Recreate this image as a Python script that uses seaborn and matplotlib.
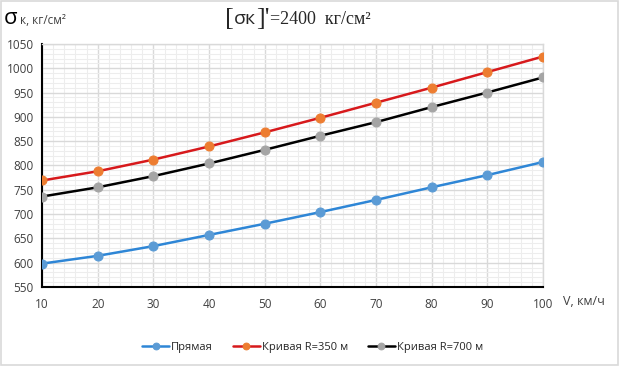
import numpy as np
import pandas as pd
import matplotlib
matplotlib.use("Agg")
import matplotlib.pyplot as plt
import seaborn as sns
from matplotlib.ticker import MultipleLocator

# ---- data ----
speeds = [10, 20, 30, 40, 50, 60, 70, 80, 90, 100]
straight = [598, 614, 634, 657, 680, 704, 729, 755, 780, 807]
curve_350 = [769, 788, 812, 839, 868, 898, 929, 960, 992, 1024]
curve_700 = [736, 755, 778, 804, 832, 861, 889, 920, 950, 981]
series_names = ["Прямая", "Кривая R=350 м", "Кривая R=700 м"]
line_colors = ["#2E86D6", "#D7191C", "#000000"]
marker_colors = ["#5B9BD5", "#ED7D31", "#A5A5A5"]

df = pd.DataFrame({
    "V": speeds * 3,
    "sigma": straight + curve_350 + curve_700,
    "series": [n for n in series_names for _ in speeds],
})

sns.set_theme(style="white")
plt.rcParams["font.family"] = ["Open Sans", "DejaVu Sans"]

fig = plt.figure(figsize=(6.19, 3.66), dpi=100)
ax = fig.add_axes([0.068, 0.216, 0.809, 0.664])

for name, lc, mc in zip(series_names, line_colors, marker_colors):
    sub = df[df["series"] == name]
    sns.lineplot(data=sub, x="V", y="sigma", ax=ax, color=lc, linewidth=1.8,
                 marker="o", markersize=6.5, markerfacecolor=mc,
                 markeredgecolor=mc, label=name, zorder=3)

ax.set_xlim(10, 100)
ax.set_ylim(550, 1050)
ax.xaxis.set_major_locator(MultipleLocator(10))
ax.xaxis.set_minor_locator(MultipleLocator(2))
ax.yaxis.set_major_locator(MultipleLocator(50))
ax.yaxis.set_minor_locator(MultipleLocator(10))
ax.grid(True, which="major", color="#D9D9D9", linewidth=1.0)
ax.grid(True, which="minor", color="#EDEDED", linewidth=0.8)
ax.set_axisbelow(True)

for side in ["top", "right"]:
    ax.spines[side].set_visible(True)
    ax.spines[side].set_color("#D9D9D9")
    ax.spines[side].set_linewidth(1.0)
for side in ["left", "bottom"]:
    ax.spines[side].set_color("#000000")
    ax.spines[side].set_linewidth(1.5)

ax.tick_params(axis="both", which="both", length=0, labelsize=8.5, colors="#404040")
ax.tick_params(axis="x", pad=8)
ax.tick_params(axis="y", pad=6)
ax.set_xlabel("")
ax.set_ylabel("")

# axis captions
fig.text(0.006, 0.935, "σ", fontsize=16, color="#000000", va="baseline")
fig.text(0.033, 0.935, "к, кг/см²", fontsize=8.5, color="#404040", va="baseline")
ax.text(1.04, -0.06, "V, км/ч", transform=ax.transAxes, fontsize=9,
        color="#404040", ha="left", va="center")

# title, laid out piece by piece so the big brackets don't collide
serif = ["Liberation Serif", "DejaVu Serif"]
pieces = [("[", 19, serif, 0.932), ("σк", 14, None, 0.935),
          ("]'", 19, serif, 0.932), ("=2400  кг/см²", 13, serif, 0.935)]
renderer = fig.canvas.get_renderer()
x = 0.363
for txt, size, fam, y in pieces:
    kw = {"family": fam} if fam else {}
    t = fig.text(x, y, txt, fontsize=size, va="baseline", **kw)
    bb = t.get_window_extent(renderer=renderer)
    x += bb.width / fig.bbox.width + 0.0005

ax.legend(loc="center", bbox_to_anchor=(0.505, 0.05), bbox_transform=fig.transFigure,
          ncol=3, frameon=False, fontsize=8, handlelength=2.4, markerscale=0.75,
          columnspacing=1.8, handletextpad=0.2)

# outer frame
fig.patches.append(plt.Rectangle((0.002, 0.003), 0.996, 0.994, transform=fig.transFigure,
                                 fill=False, edgecolor="#D9D9D9", linewidth=1.2))

fig.savefig("out.png", dpi=100)
